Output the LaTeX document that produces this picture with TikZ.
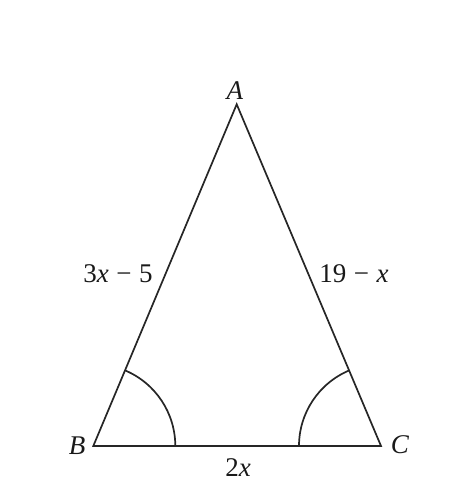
\documentclass[tikz,border=0pt]{standalone}
\usepackage{fontspec}
\setmainfont{Liberation Serif}
\newcommand{\gp}{\hspace{0.28em}}
\begin{document}
\begin{tikzpicture}[x=1pt,y=1pt,
  edge/.style={line width=1.7pt,draw=black!85,line join=miter},
  lbl/.style={font=\fontsize{27}{30}\selectfont,inner sep=0pt,text=black!90}]
\useasboundingbox (0,0) rectangle (462,497);
\coordinate (B) at (93.3,51);
\coordinate (C) at (381,51);
\coordinate (A) at (236.7,392.7);
\draw[edge] (B) -- (C) -- (A) -- cycle;
\draw[edge] ([xshift=82pt]B) arc[start angle=0,end angle=67.2,radius=82];
\draw[edge] ([xshift=-82pt]C) arc[start angle=180,end angle=112.8,radius=82];
\node[lbl] (lA) at (235,406) {\textit{A}};
\node[lbl] (lB) at (77,51) {\textit{B}};
\node[lbl] (lC) at (400,52) {\textit{C}};
\node[lbl] (lAB) at (118,223) {3\textit{x}\gp−\gp5};
\node[lbl] (lAC) at (354,223) {19\gp−\gp\textit{x}};
\node[lbl] (lBC) at (238,29) {2\textit{x}};
\end{tikzpicture}
\end{document}
